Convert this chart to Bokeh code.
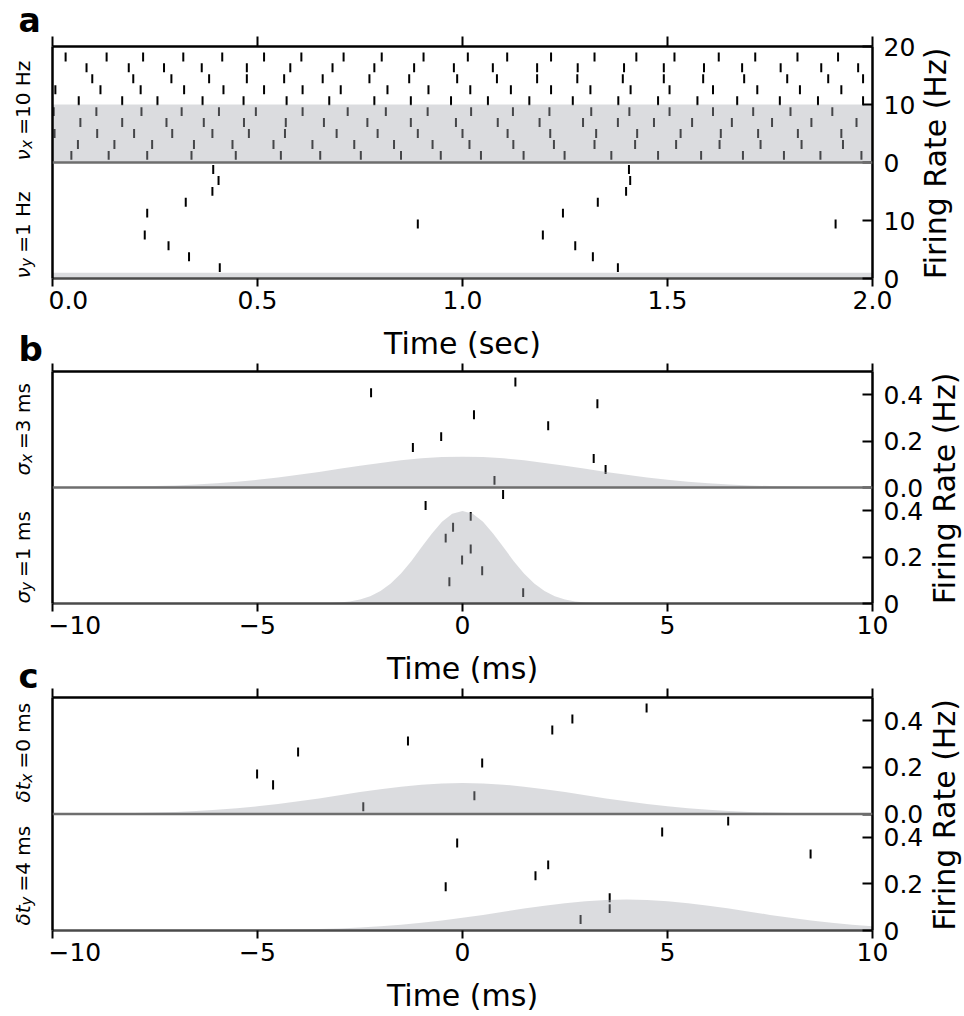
import math
import numpy as np
from bokeh.plotting import figure
from bokeh.models import (Range1d, LinearAxis, FixedTicker, CustomJSTickFormatter,
                          Label, Span, ColumnDataSource)
from bokeh.layouts import column, row
from bokeh.embed import file_html
from bokeh.resources import INLINE

FONT = "DejaVu Sans"

# ---------------- data ----------------
# Panel a: spike times (s), one list per trial, top trial first
a_x_trials = [
    [0.032, 0.132, 0.221, 0.319, 0.414, 0.516, 0.607, 0.710, 0.803, 0.905, 1.013, 1.109, 1.216, 1.322, 1.424, 1.517, 1.625, 1.714, 1.817, 1.916],
    [0.083, 0.186, 0.272, 0.364, 0.474, 0.580, 0.683, 0.785, 0.882, 0.979, 1.074, 1.182, 1.281, 1.394, 1.491, 1.589, 1.682, 1.776, 1.875, 1.965],
    [0.097, 0.197, 0.290, 0.382, 0.474, 0.565, 0.659, 0.773, 0.870, 0.987, 1.084, 1.182, 1.280, 1.391, 1.491, 1.587, 1.687, 1.792, 1.892, 1.977],
    [0.007, 0.117, 0.215, 0.321, 0.417, 0.516, 0.610, 0.703, 0.817, 0.917, 1.019, 1.118, 1.216, 1.312, 1.410, 1.505, 1.611, 1.719, 1.823, 1.924],
    [0.064, 0.170, 0.256, 0.366, 0.466, 0.571, 0.675, 0.785, 0.874, 0.972, 1.062, 1.163, 1.269, 1.380, 1.477, 1.573, 1.670, 1.774, 1.867, 1.977],
    [0.003, 0.107, 0.217, 0.315, 0.406, 0.496, 0.610, 0.720, 0.813, 0.915, 1.021, 1.123, 1.212, 1.314, 1.407, 1.505, 1.611, 1.709, 1.800, 1.902],
    [0.068, 0.170, 0.278, 0.369, 0.467, 0.569, 0.662, 0.768, 0.874, 0.984, 1.086, 1.188, 1.294, 1.379, 1.467, 1.560, 1.657, 1.755, 1.851, 1.961],
    [0.005, 0.109, 0.199, 0.292, 0.390, 0.479, 0.567, 0.693, 0.793, 0.891, 1.000, 1.110, 1.214, 1.326, 1.426, 1.532, 1.630, 1.721, 1.818, 1.924],
    [0.062, 0.151, 0.243, 0.345, 0.439, 0.539, 0.634, 0.736, 0.833, 0.927, 1.017, 1.124, 1.223, 1.322, 1.421, 1.521, 1.627, 1.727, 1.827, 1.928],
    [0.046, 0.137, 0.231, 0.339, 0.447, 0.557, 0.653, 0.752, 0.850, 0.947, 1.045, 1.149, 1.249, 1.363, 1.477, 1.582, 1.684, 1.784, 1.873, 1.973],
]
a_y_trials = [
    [0.392, 1.406], [0.405, 1.409], [0.390, 1.399], [0.325, 1.330], [0.231, 1.245],
    [0.891, 1.910], [0.225, 1.196], [0.283, 1.275], [0.333, 1.318], [0.408, 1.379],
]
a_rate_t = [0.0, 2.0]
a_rate_x = [10.0, 10.0]
a_rate_y = [1.0, 1.0]
a_xticks = [0.0, 0.5, 1.0, 1.5, 2.0]
a_rticks = [0, 10, 20, 30, 40]
a_rlabels = ["0", "10", "0", "10", "20"]

# Panel b: one spike per trial (ms), top trial first
b_x_spikes = [1.29, -2.23, 3.29, 0.28, 2.09, -0.52, -1.21, 3.20, 3.49, 0.78]
b_y_spikes = [0.99, -0.90, 0.20, -0.23, -0.41, 0.20, -0.01, 0.48, -0.32, 1.48]
# Panel c
c_x_spikes = [4.49, 2.68, 2.19, -1.33, -4.01, 0.48, -5.01, -4.62, 0.29, -2.42]
c_y_spikes = [6.48, 4.87, -0.13, 8.49, 2.09, 1.78, -0.41, 3.59, 3.59, 2.88]

ms_rate_t = list(np.arange(-10.0, 10.001, 0.5))
b_rate_x = [0.0005, 0.001, 0.0015, 0.002, 0.004, 0.006, 0.009, 0.013, 0.018, 0.025, 0.033,
            0.043, 0.055, 0.067, 0.081, 0.094, 0.106, 0.117, 0.126, 0.131, 0.133, 0.131,
            0.126, 0.117, 0.106, 0.094, 0.081, 0.067, 0.055, 0.043, 0.033, 0.025, 0.018,
            0.013, 0.009, 0.006, 0.004, 0.002, 0.0015, 0.001, 0.0005]
b_rate_y_t = [-10.0] + list(np.arange(-4.0, 4.001, 0.25)) + [10.0]
b_rate_y = [0.0, 0.0001, 0.0004, 0.0009, 0.002, 0.0044, 0.0091, 0.0175, 0.0317, 0.054, 0.0863,
            0.1295, 0.1826, 0.242, 0.3011, 0.3521, 0.3867, 0.3989, 0.3867, 0.3521, 0.3011,
            0.242, 0.1826, 0.1295, 0.0863, 0.054, 0.0317, 0.0175, 0.0091, 0.0044, 0.002,
            0.0009, 0.0004, 0.0001, 0.0]
c_rate_x = b_rate_x
c_rate_y = [0.0, 0.0, 0.0, 0.0, 0.0, 0.0001, 0.0002, 0.0003, 0.0005, 0.001, 0.0015, 0.002,
            0.004, 0.006, 0.009, 0.013, 0.018, 0.025, 0.033, 0.043, 0.055, 0.067, 0.081,
            0.094, 0.106, 0.117, 0.126, 0.131, 0.133, 0.131, 0.126, 0.117, 0.106, 0.094,
            0.081, 0.067, 0.055, 0.043, 0.033, 0.025, 0.018]
ms_xticks = [-10, -5, 0, 5, 10]
ms_rticks = [0, 0.2, 0.4, 0.5, 0.7, 0.9]
ms_rlabels = ["0", "0.2", "0.4", "0.0", "0.2", "0.4"]

# ---------------- styling ----------------
FILL = "#a8aab2"
FILL_ALPHA = 0.41
BASE_LINE = "#6e6e6e"
SPIKE_HALF = 0.41   # in trial-row units
LEFT_W = 48
SHIFT = 11          # label baseline correction (px)

EM = {"ν": 0.592, "σ": 0.635, "δt": 1.004, "x": 0.592, "y": 0.592, " ": 0.25}


def no_align(f):
    try:
        f.frame_align = False
    except AttributeError:
        pass


def rfmt(keys, labels):
    return CustomJSTickFormatter(args=dict(keys=keys, labels=labels), code="""
        for (let i = 0; i < keys.length; i++) {
            if (Math.abs(tick - keys[i]) < 1e-6) { return labels[i]; }
        }
        return "";
    """)


def text_fig(width, height):
    f = figure(width=width, height=height, x_range=Range1d(0, width),
               y_range=Range1d(height, 0), x_axis_location=None, y_axis_location=None,
               output_backend="svg", toolbar_location=None, min_border=0,
               min_border_left=0, min_border_right=0, min_border_top=0, min_border_bottom=0,
               background_fill_color="white", border_fill_color="white",
               outline_line_color=None)
    f.grid.grid_line_color = None
    no_align(f)
    return f


def rot(f, x, y, text, size, style="normal", align="left"):
    f.add_layout(Label(x=x - SHIFT, y=y, text=text, angle=math.pi / 2, text_align=align,
                       text_baseline="alphabetic", text_font=FONT,
                       text_font_size=f"{size}px", text_font_style=style,
                       text_color="black"))


def side_label(f, bottom, base, sub, rest):
    fs, fss = 20, 15
    wb = EM[base] * fs
    ws = EM[sub] * fss
    wsp = EM[" "] * fs
    rot(f, 33, bottom, base, fs, "italic")
    rot(f, 37, bottom - wb, sub, fss, "italic")
    rot(f, 33, bottom - wb - ws - wsp, rest, fs)


def letter(f, y, text, size=34):
    f.add_layout(Label(x=18, y=y - SHIFT, text=text, text_font=FONT,
                       text_font_size=f"{size}px", text_font_style="bold",
                       text_color="black", text_align="left", text_baseline="alphabetic"))


def make_panel(height, top, bottom, right, xr, yend, xticks, xfmt_code, xlabel,
               rticks, rlabels, top_tick):
    p = figure(width=4 + 820 + right, height=height, x_range=Range1d(*xr),
               y_range=Range1d(0, yend), x_axis_location=None, y_axis_location=None,
               output_backend="svg", toolbar_location=None, min_border_left=4,
               min_border_right=right, min_border_top=top, min_border_bottom=bottom,
               background_fill_color="white", border_fill_color="white",
               outline_line_color=None)
    p.grid.grid_line_color = None
    no_align(p)
    p.extra_y_ranges = {"rows_top": Range1d(-10.25, 10.95), "rows_bot": Range1d(0, 21.3)}

    xb = LinearAxis(ticker=FixedTicker(ticks=xticks),
                    formatter=CustomJSTickFormatter(code=xfmt_code),
                    axis_label=xlabel, axis_label_text_font=FONT,
                    axis_label_text_font_size="30px", axis_label_text_font_style="normal",
                    axis_label_text_color="black", axis_label_standoff=14,
                    major_label_text_font=FONT, major_label_text_font_size="25px",
                    major_label_text_color="black", major_label_standoff=4,
                    major_tick_in=0, major_tick_out=8, major_tick_line_width=2,
                    major_tick_line_color="black", minor_tick_line_color=None,
                    axis_line_color="#4a4a4a", axis_line_width=2.5)
    p.add_layout(xb, "below")
    xt = LinearAxis(ticker=FixedTicker(ticks=xticks),
                    formatter=CustomJSTickFormatter(code="return '';"),
                    major_label_text_font_size="0px", major_label_standoff=0,
                    major_tick_in=0, major_tick_out=top_tick, major_tick_line_width=2,
                    major_tick_line_color="black", minor_tick_line_color=None,
                    axis_line_color="black", axis_line_width=2.5)
    p.add_layout(xt, "above")
    yl = LinearAxis(ticker=FixedTicker(ticks=[]), major_label_text_font_size="0px",
                    major_label_standoff=0, major_tick_in=0, major_tick_out=0,
                    major_tick_line_color=None, minor_tick_line_color=None,
                    axis_line_color="black", axis_line_width=2.5)
    p.add_layout(yl, "left")
    yr = LinearAxis(ticker=FixedTicker(ticks=rticks), formatter=rfmt(rticks, rlabels),
                    major_label_text_font=FONT, major_label_text_font_size="25px",
                    major_label_text_color="black", major_label_standoff=11,
                    major_tick_in=10, major_tick_out=0, major_tick_line_width=2,
                    major_tick_line_color="black", minor_tick_line_color=None,
                    axis_line_color="black", axis_line_width=2.5)
    p.add_layout(yr, "right")
    return p


def add_spikes(p, trials, range_name):
    t, r = [], []
    for i, trial in enumerate(trials):
        for s in trial:
            t.append(s)
            r.append(10 - i)
    r = np.array(r, dtype=float)
    src = ColumnDataSource(dict(t=t, y0=r - SPIKE_HALF, y1=r + SPIKE_HALF))
    p.segment(x0="t", y0="y0", x1="t", y1="y1", source=src, line_color="black",
              line_width=2, line_cap="butt", y_range_name=range_name)


def add_rate(p, t, rate, base):
    y2 = base + np.array(rate, dtype=float)
    p.varea(x=list(t), y1=base, y2=list(y2), fill_color=FILL, fill_alpha=FILL_ALPHA)


fmt_sec = "return tick.toFixed(1);"
fmt_ms = "return tick < 0 ? '\u2212' + (-tick) : '' + tick;"

HA, HB, HC = 363, 325, 327

# ---------------- panel a ----------------
pa = make_panel(HA, 46, 83, 46, (0.0, 2.0), 40, a_xticks, fmt_sec, "Time (sec)",
                a_rticks, a_rlabels, 10)
add_spikes(pa, a_x_trials, "rows_top")
add_spikes(pa, a_y_trials, "rows_bot")
add_rate(pa, a_rate_t, a_rate_x, 20)
add_rate(pa, a_rate_t, a_rate_y, 0)
pa.add_layout(Span(location=20, dimension="width", line_color=BASE_LINE, line_width=2.5))
ra = text_fig(964 - LEFT_W - (4 + 820 + 46), HA)
rot(ra, 28, 163, "Firing Rate (Hz)", 30, align="center")

# ---------------- panel b ----------------
pb = make_panel(HB, 8, 83, 54, (-10, 10), 1.0, ms_xticks, fmt_ms, "Time (ms)",
                ms_rticks, ms_rlabels, 8)
add_spikes(pb, [[s] for s in b_x_spikes], "rows_top")
add_spikes(pb, [[s] for s in b_y_spikes], "rows_bot")
add_rate(pb, ms_rate_t, b_rate_x, 0.5)
add_rate(pb, b_rate_y_t, b_rate_y, 0.0)
pb.add_layout(Span(location=0.5, dimension="width", line_color=BASE_LINE, line_width=2.5))
rb = text_fig(964 - LEFT_W - (4 + 820 + 54), HB)
rot(rb, 29, 488 - HA, "Firing Rate (Hz)", 30, align="center")

# ---------------- panel c ----------------
pc = make_panel(HC, 9, 83, 54, (-10, 10), 1.0, ms_xticks, fmt_ms, "Time (ms)",
                ms_rticks, ms_rlabels, 9)
add_spikes(pc, [[s] for s in c_x_spikes], "rows_top")
add_spikes(pc, [[s] for s in c_y_spikes], "rows_bot")
add_rate(pc, ms_rate_t, c_rate_x, 0.5)
add_rate(pc, ms_rate_t, c_rate_y, 0.0)
pc.add_layout(Span(location=0.5, dimension="width", line_color=BASE_LINE, line_width=2.5))
rc = text_fig(964 - LEFT_W - (4 + 820 + 54), HC)
rot(rc, 29, 814.5 - HA - HB, "Firing Rate (Hz)", 30, align="center")

# ---------------- left column of labels (page coordinates) ----------------
lf = text_fig(LEFT_W, HA + HB + HC)
letter(lf, 31, "a", 33)
letter(lf, 359, "b")
letter(lf, 686, "c")
side_label(lf, 160, "ν", "x", "=10 Hz")
side_label(lf, 278, "ν", "y", "=1 Hz")
side_label(lf, 475, "σ", "x", "=3 ms")
side_label(lf, 603, "σ", "y", "=1 ms")
side_label(lf, 802, "δt", "x", "=0 ms")
side_label(lf, 925, "δt", "y", "=4 ms")

layout = row(lf,
             column(row(pa, ra, spacing=0), row(pb, rb, spacing=0),
                    row(pc, rc, spacing=0), spacing=0),
             spacing=0)
open("out.html", "w").write(file_html(layout, INLINE))
